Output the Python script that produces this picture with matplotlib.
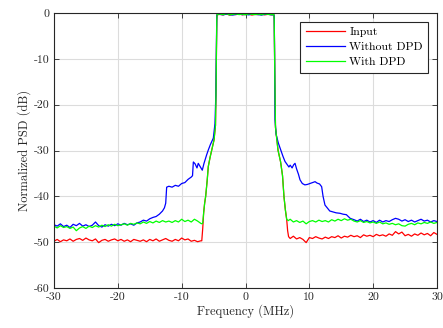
import numpy as np
import matplotlib
matplotlib.use("Agg")
import matplotlib.pyplot as plt

plt.rcParams['font.family'] = ['cmr10', 'DejaVu Serif']
plt.rcParams['axes.unicode_minus'] = False
plt.rcParams['mathtext.fontset'] = 'cm'

# ---------------- data (MHz, dB) ----------------
grid_left = np.arange(-30.0, -6.75, 0.5)      # -30 ... -7
grid_pass = np.arange(-4.0, 4.25, 0.5)         # -4 ... 4
grid_right = np.arange(7.5, 30.25, 0.5)        # 7.5 ... 30

# Input
in_left = [-49.8, -49.4, -49.9, -49.5, -49.7, -49.3, -49.8, -49.4, -49.2, -49.6,
           -49.1, -49.5, -49.7, -49.3, -50.1, -49.6, -49.4, -49.8, -49.5, -49.3,
           -49.7, -49.4, -49.8, -49.5, -49.9, -49.4, -49.6, -49.8, -49.5, -49.9,
           -49.4, -49.7, -49.3, -49.8, -49.5, -49.2, -49.6, -49.8, -49.4, -49.7,
           -49.1, -49.5, -49.3, -49.8, -49.6, -49.9, -49.7]
in_edge_l_f = [-6.85, -6.7, -6.55, -6.4, -6.24, -6.0, -5.83, -5.55, -5.3, -4.93, -4.7, -4.6, -4.5, -4.45]
in_edge_l = [-49.7, -47.0, -43.5, -41.5, -40.0, -36.5, -33.5, -31.5, -30.0, -27.7, -24.5, -15.0, -1.5, -0.4]
in_pass = [-0.3, -0.4, -0.2, -0.45, -0.3, -0.35, -0.2, -0.4, -0.3, -0.25, -0.45, -0.3,
           -0.35, -0.2, -0.4, -0.3, -0.35]
in_edge_r_f = [4.45, 4.5, 4.6, 4.7, 5.09, 5.5, 5.8, 6.03, 6.25, 6.45, 6.6, 6.75, 7.0]
in_edge_r = [-0.4, -1.5, -15.0, -25.0, -29.9, -32.5, -35.5, -40.1, -43.0, -45.0, -47.5, -48.8, -49.2]
in_right = [-48.7, -49.3, -49.0, -49.4, -50.1, -49.0, -49.2, -48.8, -49.1, -49.3,
            -48.9, -49.2, -48.8, -49.0, -48.6, -49.1, -48.7, -48.9, -48.5, -48.8,
            -48.6, -49.0, -48.4, -48.7, -48.5, -48.8, -48.3, -48.6, -48.4, -48.7,
            -48.2, -48.5, -47.7, -48.2, -47.8, -48.6, -48.3, -48.7, -48.2, -48.5,
            -48.0, -48.4, -48.1, -48.6, -47.9, -48.3]

# Without DPD
wo_left_f = np.arange(-30.0, -16.25, 0.5)       # -30 ... -16.5
wo_left = [-46.2, -46.5, -46.0, -46.6, -46.3, -46.8, -46.1, -46.4, -45.9, -46.5,
           -46.2, -46.6, -46.3, -45.6, -46.4, -46.7, -46.2, -46.5, -46.1, -46.4,
           -46.0, -46.3, -45.9, -46.2, -46.0, -46.3, -45.8, -45.6]
wo_shoulder_l_f = [-16.0, -15.5, -15.0, -14.5, -14.0, -13.5, -13.0, -12.7, -12.5, -12.35,
                   -12.0, -11.5, -11.0, -10.5, -10.0, -9.5, -9.0, -8.5, -8.3, -8.17,
                   -7.9, -7.6, -7.4, -7.1, -6.77, -6.5, -6.35, -6.1, -5.83, -5.5,
                   -5.04, -4.78, -4.65, -4.55, -4.5, -4.45]
wo_shoulder_l = [-45.2, -45.4, -44.9, -44.6, -44.4, -43.9, -43.2, -42.5, -41.5, -38.0,
                 -37.8, -38.0, -37.6, -37.8, -37.2, -37.0, -36.3, -35.8, -35.5, -32.5,
                 -32.9, -33.8, -32.8, -33.5, -34.3, -32.8, -32.1, -31.0, -29.9, -28.7,
                 -27.3, -24.1, -18.0, -5.0, -0.6, -0.3]
wo_pass = [-0.3, -0.4, -0.25, -0.35, -0.45, -0.3, -0.2, -0.35, -0.3, -0.4, -0.25,
           -0.3, -0.35, -0.45, -0.3, -0.25, -0.4]
wo_shoulder_r_f = [4.45, 4.5, 4.55, 4.62, 4.8, 5.15, 5.5, 5.85, 6.19, 6.5, 6.8, 7.0,
                   7.3, 7.55, 7.76, 8.0, 8.3, 8.54, 8.9, 9.3, 9.7, 10.1, 10.5, 10.9,
                   11.2, 11.6, 11.93, 12.15, 12.45, 12.8, 13.2, 13.7, 14.2, 14.8, 15.3,
                   15.8, 16.4, 17.0]
wo_shoulder_r = [-0.4, -0.8, -8.0, -23.3, -26.5, -28.4, -29.8, -31.2, -32.4, -33.0,
                 -33.6, -33.2, -33.8, -33.1, -32.8, -34.0, -35.2, -36.4, -37.2, -37.5,
                 -37.4, -37.2, -37.0, -36.8, -37.1, -37.3, -37.9, -40.0, -41.9, -42.5,
                 -43.2, -43.4, -43.6, -43.7, -43.9, -44.0, -44.8, -45.1]
wo_right_f = np.arange(17.5, 30.25, 0.5)        # 17.5 ... 30
wo_right = [-45.4, -45.0, -45.5, -45.2, -45.6, -45.3, -45.7, -45.2, -45.6, -45.3,
            -45.5, -45.1, -44.8, -45.0, -45.4, -45.1, -45.5, -45.2, -45.6, -45.3,
            -45.0, -45.4, -45.2, -45.6, -45.3, -45.5]

# With DPD
w_left = [-46.5, -46.9, -46.4, -46.8, -46.6, -47.0, -46.7, -47.5, -46.9, -46.6,
          -47.0, -46.5, -46.8, -46.4, -46.7, -46.3, -46.6, -46.2, -46.5, -46.1,
          -46.4, -46.2, -46.0, -46.3, -45.9, -46.1, -45.8, -46.0, -45.6, -45.9,
          -45.5, -45.8, -45.4, -45.7, -45.3, -45.6, -45.4, -45.7, -45.3, -45.6,
          -45.0, -45.5, -45.2, -45.6, -45.0, -45.4, -45.9]
w_edge_l_f = [-6.8, -6.7, -6.55, -6.4, -6.24, -6.0, -5.83, -5.55, -5.3, -4.93, -4.7, -4.6, -4.5, -4.45]
w_edge_l = [-46.0, -45.8, -43.5, -41.5, -40.0, -36.5, -33.5, -31.5, -30.0, -27.7, -24.5, -15.0, -1.5, -0.3]
w_pass = [-0.25, -0.35, -0.15, -0.4, -0.3, -0.2, -0.35, -0.25, -0.4, -0.2, -0.3,
          -0.35, -0.25, -0.4, -0.2, -0.3, -0.35]
w_edge_r_f = [4.45, 4.5, 4.6, 4.7, 5.09, 5.5, 5.8, 6.03, 6.25, 6.45, 6.7, 7.0]
w_edge_r = [-0.35, -1.5, -15.0, -25.0, -29.9, -32.5, -35.5, -40.1, -43.0, -45.0, -45.3, -45.0]
w_right = [-45.6, -45.3, -45.7, -45.4, -46.0, -45.5, -45.3, -45.6, -45.2, -45.5,
           -45.3, -45.6, -45.1, -45.4, -45.0, -45.3, -44.9, -45.2, -45.0, -45.4,
           -45.6, -45.3, -45.7, -45.5, -45.8, -45.6, -45.9, -45.6, -46.0, -45.8,
           -46.1, -45.9, -46.2, -46.0, -46.4, -46.5, -46.1, -45.9, -46.2, -45.8,
           -46.0, -45.7, -45.9, -45.6, -45.9, -45.7]

series_labels = ['Input', 'Without DPD', 'With DPD']
series_colors = ['#ff0000', '#0000ff', '#00ff00']
x_ticks = [-30, -20, -10, 0, 10, 20, 30]
y_ticks = [-60, -50, -40, -30, -20, -10, 0]

# ---------------- assemble ----------------
f_in = np.concatenate([grid_left, in_edge_l_f, grid_pass, in_edge_r_f, grid_right])
p_in = np.concatenate([in_left, in_edge_l, in_pass, in_edge_r, in_right])
f_wo = np.concatenate([wo_left_f, wo_shoulder_l_f, grid_pass, wo_shoulder_r_f, wo_right_f])
p_wo = np.concatenate([wo_left, wo_shoulder_l, wo_pass, wo_shoulder_r, wo_right])
f_w = np.concatenate([grid_left, w_edge_l_f, grid_pass, w_edge_r_f, grid_right])
p_w = np.concatenate([w_left, w_edge_l, w_pass, w_edge_r, w_right])

fig = plt.figure(figsize=(4.43, 3.28), dpi=100)
ax = fig.add_axes([54/443, 40/328, 383/443, 275/328])

for f, p, lab, col in zip([f_in, f_wo, f_w], [p_in, p_wo, p_w], series_labels, series_colors):
    ax.plot(f, p, color=col, lw=0.9, label=lab)

ax.set_xlim(-30, 30)
ax.set_ylim(-60, 0)
ax.set_xticks(x_ticks)
ax.set_yticks(y_ticks)
ax.set_xticklabels([str(t) for t in x_ticks])
ax.set_yticklabels([str(t) for t in y_ticks])
ax.grid(True, color='#dcdcdc', lw=0.8)
ax.set_axisbelow(True)
for s in ax.spines.values():
    s.set_color('#262626')
    s.set_linewidth(0.8)
ax.tick_params(direction='in', top=True, right=True, length=3.5, width=0.6,
               colors='#262626', labelsize=8.5, pad=3)
ax.set_xlabel('Frequency (MHz)', fontsize=9, color='#262626', labelpad=2)
ax.set_ylabel('Normalized PSD (dB)', fontsize=9, color='#262626', labelpad=2)

leg = ax.legend(loc='upper right', fontsize=8.5, frameon=True, fancybox=False,
                edgecolor='#262626', framealpha=1, borderpad=0.45, labelspacing=0.4,
                handlelength=3.3, handletextpad=0.4, borderaxespad=0.75)
leg.get_frame().set_linewidth(0.8)

fig.savefig('out.png', dpi=100)
